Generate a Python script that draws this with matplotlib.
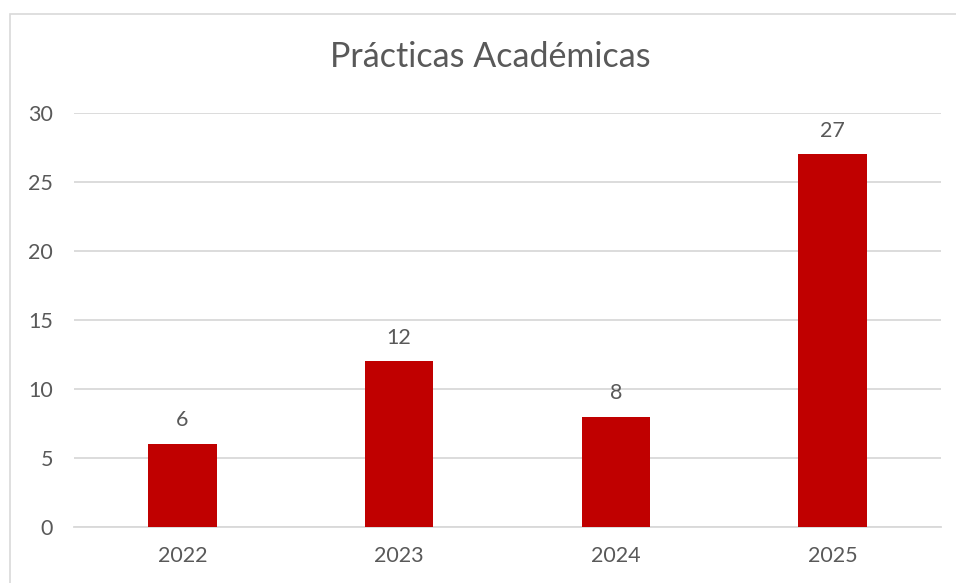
import matplotlib
matplotlib.use("Agg")
import matplotlib.pyplot as plt
from matplotlib.patches import Rectangle

years = ["2022", "2023", "2024", "2025"]
values = [6, 12, 8, 27]
title = "Prácticas Académicas"
yticks = [0, 5, 10, 15, 20, 25, 30]

plt.rcParams['font.family'] = ['Lato', 'DejaVu Sans']
TXT = "#595959"
GRID = "#D9D9D9"
BAR = "#C00000"

W, H = 956, 583
fig = plt.figure(figsize=(W/100, H/100), dpi=100)

# chart border (cropped on right and bottom)
fig.patches.append(Rectangle((10/W, -0.1), 1.2, 1 - 14/H + 0.1, transform=fig.transFigure,
                             fill=False, edgecolor=GRID, linewidth=1.2))

ax = fig.add_axes([74/W, 1 - 527/H, (941 - 74)/W, (527 - 113)/H])
x = list(range(len(years)))
bars = ax.bar(x, values, width=0.315, color=BAR, zorder=3)
ax.set_xlim(-0.5, len(years) - 0.5)
ax.set_ylim(0, 30)
ax.set_yticks(yticks)
ax.set_xticks(x)
ax.set_xticklabels(years)
ax.yaxis.grid(True, color=GRID, linewidth=1.3, zorder=0)
for s in ["top", "right", "left"]:
    ax.spines[s].set_visible(False)
ax.spines["bottom"].set_color(GRID)
ax.spines["bottom"].set_linewidth(1.3)
ax.tick_params(axis="both", length=0, labelsize=15.5, colors=TXT)
ax.tick_params(axis="y", pad=15)
ax.tick_params(axis="x", pad=14)

for xi, v in zip(x, values):
    ax.annotate(str(v), (xi, v), xytext=(0, 10), textcoords="offset points",
                ha="center", va="bottom", fontsize=15.5, color=TXT)

fig.text(490 / W, 1 - 57/H, title, ha="center", va="center",
         fontsize=24.5, color=TXT)

fig.savefig("out.png", dpi=100)
